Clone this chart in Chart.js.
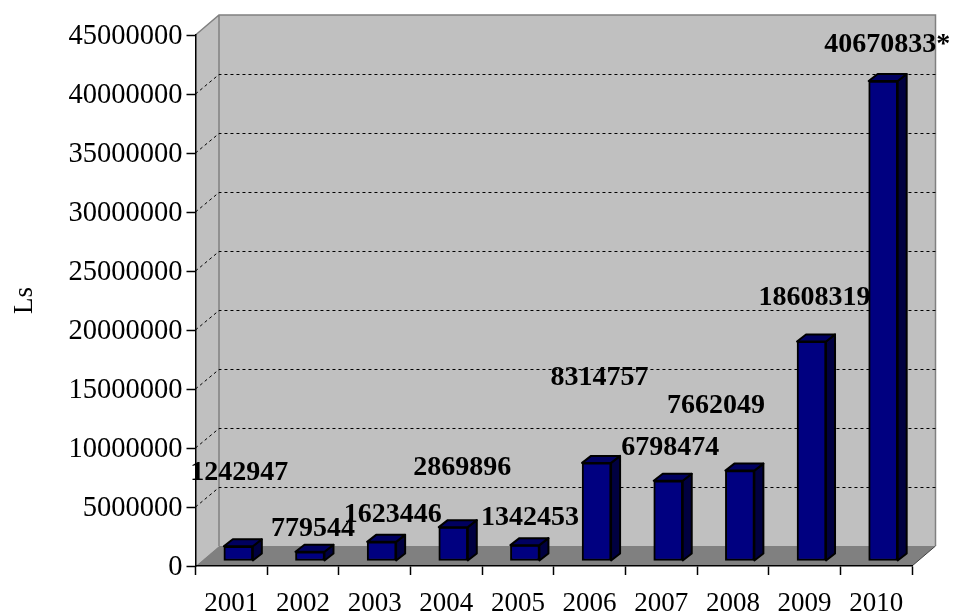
<!DOCTYPE html>
<html>
<head>
<meta charset="utf-8">
<style>
  html, body { margin: 0; padding: 0; background: #fff; }
  canvas { display: block; }
</style>
<script src="https://cdn.jsdelivr.net/npm/chart.js@4/dist/chart.umd.min.js"></script>
</head>
<body>
<canvas id="myChart" width="953" height="612"></canvas>
<script>
let YEARS = ['2001', '2002', '2003', '2004', '2005', '2006', '2007', '2008', '2009', '2010']
let VALUES = [1242947, 779544, 1623446, 2869896, 1342453, 8314757, 6798474, 7662049, 18608319, 40670833]
let VALUE_LABELS = ['1242947', '779544', '1623446', '2869896', '1342453', '8314757', '6798474', '7662049', '18608319', '40670833*']

// where each value label sits, relative to the top of its bar
let LABEL_DX = [8, 10, 18, 16, 12, 10, 9, -17, 10, 11]
let LABEL_DY = [-79, -28, -32, -64, -32, -90, -38, -70, -49, -41]

// 3d look: depth of the box and depth of the bars
let BOX_DX = 23.5, BOX_DY = -20
let BAR_SHIFT_X = 7, BAR_SHIFT_Y = -5
let BAR_DX = 9, BAR_DY = -7

const FONT = '"Liberation Serif", "Times New Roman", serif'

let poly = (c, pts, fill) => {
    c.beginPath()
    pts.forEach((p, i) => i ? c.lineTo(p[0], p[1]) : c.moveTo(p[0], p[1]))
    c.closePath()
    c.fillStyle = fill
    c.fill()
}

let box3d = {
    id: 'box3d',
    beforeDraw(chart) {
        let c = chart.ctx
        let { left, right, top, bottom } = chart.chartArea
        c.save()
        // walls and floor
        poly(c, [[left + BOX_DX, top + BOX_DY], [right + BOX_DX, top + BOX_DY], [right + BOX_DX, bottom + BOX_DY], [left + BOX_DX, bottom + BOX_DY]], '#C0C0C0')
        poly(c, [[left, top], [left + BOX_DX, top + BOX_DY], [left + BOX_DX, bottom + BOX_DY], [left, bottom]], '#C0C0C0')
        poly(c, [[left, bottom], [left + BOX_DX, bottom + BOX_DY], [right + BOX_DX, bottom + BOX_DY], [right, bottom]], '#808080')

        c.strokeStyle = '#808080'
        c.lineWidth = 1.5
        c.beginPath()
        c.moveTo(left, top)
        c.lineTo(left + BOX_DX, top + BOX_DY)
        c.lineTo(right + BOX_DX, top + BOX_DY)
        c.lineTo(right + BOX_DX, bottom + BOX_DY)
        c.moveTo(left + BOX_DX, top + BOX_DY)
        c.lineTo(left + BOX_DX, bottom + BOX_DY)
        c.stroke()

        // dotted gridlines
        let y = chart.scales.y
        c.strokeStyle = '#000'
        c.lineWidth = 1
        c.setLineDash([3, 3])
        y.ticks.forEach(t => {
            if (t.value === 0 || t.value === y.max) return
            let py = y.getPixelForValue(t.value)
            let backY = Math.round(py + BOX_DY) + 0.5
            c.beginPath()
            c.moveTo(left, py)
            c.lineTo(left + BOX_DX, backY)
            c.lineTo(right + BOX_DX, backY)
            c.stroke()
        })
        c.setLineDash([])

        c.strokeStyle = '#404040'
        c.beginPath()
        c.moveTo(right, bottom)
        c.lineTo(right + BOX_DX, bottom + BOX_DY)
        c.stroke()
        c.restore()
    },
    beforeDatasetDraw(chart) {
        chart.ctx.save()
        chart.ctx.translate(BAR_SHIFT_X, BAR_SHIFT_Y)
    },
    afterDatasetDraw(chart, args) {
        let c = chart.ctx
        chart.getDatasetMeta(args.index).data.forEach(bar => {
            let l = bar.x - bar.width / 2, r = bar.x + bar.width / 2
            let t = bar.y, b = bar.base
            c.lineWidth = 2
            c.strokeStyle = '#000'
            c.lineJoin = 'round'
            poly(c, [[r, t], [r + BAR_DX, t + BAR_DY], [r + BAR_DX, b + BAR_DY], [r, b]], '#000040')
            c.stroke()
            poly(c, [[l, t], [l + BAR_DX, t + BAR_DY], [r + BAR_DX, t + BAR_DY], [r, t]], '#000060')
            c.stroke()
        })
        c.restore()
    },
    afterDraw(chart) {
        let c = chart.ctx
        c.save()
        c.fillStyle = '#000'
        c.font = 'bold 28px ' + FONT
        c.textAlign = 'center'
        c.textBaseline = 'middle'
        chart.getDatasetMeta(0).data.forEach((bar, i) => {
            c.fillText(VALUE_LABELS[i], bar.x + LABEL_DX[i], bar.y + LABEL_DY[i])
        })
        c.restore()
    }
}

let myChart = new Chart(document.getElementById('myChart'), {
    type: 'bar',
    data: {
        labels: YEARS,
        datasets: [{
            data: VALUES,
            backgroundColor: '#000080',
            borderColor: '#000',
            borderWidth: 2,
            borderSkipped: false,
            barThickness: 29,
            clip: false
        }]
    },
    options: {
        responsive: false,
        animation: false,
        layout: { padding: { left: 0, top: 35, right: 41, bottom: 0 } },
        plugins: { legend: { display: false }, tooltip: { enabled: false } },
        scales: {
            y: {
                min: 0,
                max: 45000000,
                afterFit: (scale) => { scale.width = 195.5 },
                title: {
                    display: true,
                    text: 'Ls',
                    color: '#000',
                    font: { family: FONT, size: 27 },
                    padding: { top: 9, bottom: 0 }
                },
                border: { color: '#000', width: 1.5 },
                grid: { drawOnChartArea: false, color: '#000', tickLength: 9, tickWidth: 1.5 },
                ticks: {
                    stepSize: 5000000,
                    padding: 4,
                    labelOffset: 2,
                    color: '#000',
                    font: { family: FONT, size: 28.5 },
                    callback: (val) => String(val)
                }
            },
            x: {
                afterFit: (scale) => { scale.height = 46 },
                border: { color: '#000', width: 1.5 },
                grid: { drawOnChartArea: false, offset: true, color: '#000', tickLength: 9, tickWidth: 1.5 },
                ticks: {
                    padding: 13,
                    color: '#000',
                    maxRotation: 0,
                    autoSkip: false,
                    font: { family: FONT, size: 27 }
                }
            }
        }
    },
    plugins: [box3d]
});
</script>
</body>
</html>
